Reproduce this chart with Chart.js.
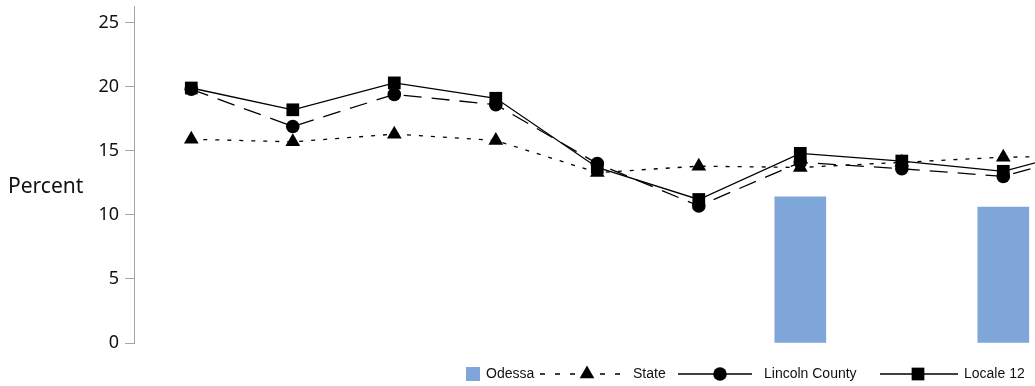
<!DOCTYPE html>
<html>
<head>
<meta charset="utf-8">
<script src="https://cdn.jsdelivr.net/npm/chart.js@4"></script>
<style>
  html, body { margin: 0; padding: 0; background: #fff; }
  #wrap { width: 1035px; height: 386px; }
</style>
</head>
<body>
<div id="wrap"><canvas id="chart" width="1035" height="386"></canvas></div>
<script>
// categories are unlabeled in the picture, only their positions show
const categories = [0, 1, 2, 3, 4, 5, 6, 7, 8, 9];
const odessa   = [null, null, null, null, null, null, 11.4, null, 10.6, null];
const state    = [15.9, 15.7, 16.3, 15.8, 13.3, 13.8, 13.7, 14.1, 14.5, 14.6];
const lincoln  = [19.8, 16.9, 19.4, 18.6, 14.0, 10.7, 14.1, 13.6, 13.0, 15.2];
const locale12 = [19.9, 18.2, 20.3, 19.1, 13.7, 11.2, 14.8, 14.2, 13.4, 15.5];
const yTicks = [0, 5, 10, 15, 20, 25];

const toXY = arr => categories.map((c, i) => ({ x: c, y: arr[i] })).filter(p => p.y !== null);

const legendPlugin = {
  id: 'customLegend',
  afterDraw(chart) {
    const ctx = chart.ctx;
    ctx.save();
    // y title, horizontal
    ctx.fillStyle = '#111';
    ctx.font = '21px "Noto Sans"';
    ctx.textBaseline = 'middle';
    ctx.textAlign = 'left';
    ctx.fillText('Percent', 8, 187);

    const y = 374;
    ctx.font = '14px "Liberation Sans"';
    // Odessa
    ctx.fillStyle = '#7EA6D8';
    ctx.fillRect(466, y - 7, 14, 14);
    ctx.fillStyle = '#111';
    ctx.fillText('Odessa', 486, y);

    const sample = (x0, x1, mx, ds, label, tx, dash) => {
      ctx.save();
      ctx.strokeStyle = '#000';
      ctx.lineWidth = 1.3;
      ctx.setLineDash(dash);
      ctx.beginPath();
      ctx.moveTo(x0, y);
      ctx.lineTo(x1, y);
      ctx.stroke();
      ctx.restore();
      ctx.fillStyle = '#000';
      Chart.helpers.drawPoint(ctx, {
        pointStyle: ds.pointStyle, radius: ds.pointRadius, rotation: 0, borderWidth: 0
      }, mx, y);
      ctx.fillStyle = '#111';
      ctx.fillText(label, tx, y);
    };
    const d = chart.data.datasets;
    sample(540, 625, 587, d[1], 'State', 633, [5, 10]);
    sample(678, 752, 720, d[2], 'Lincoln County', 764, []);
    sample(880, 958, 918, d[3], 'Locale 12', 964, []);
    ctx.restore();
  }
};

const xMin = -0.5645;
const xMax = xMin + 901 / 101.5;

new Chart(document.getElementById('chart'), {
  data: {
    datasets: [
      {
        type: 'bar', label: 'Odessa', data: toXY(odessa),
        backgroundColor: '#7EA6D8', borderWidth: 0, barThickness: 51, order: 4
      },
      {
        type: 'line', label: 'State', data: toXY(state),
        borderColor: '#000', borderWidth: 1.3, borderDash: [4, 8],
        pointStyle: 'triangle', pointRadius: 8.5,
        pointBackgroundColor: '#000', pointBorderWidth: 0, order: 3
      },
      {
        type: 'line', label: 'Lincoln County', data: toXY(lincoln),
        borderColor: '#000', borderWidth: 1.3, borderDash: [18, 10],
        pointStyle: 'circle', pointRadius: 6.8,
        pointBackgroundColor: '#000', pointBorderWidth: 0, order: 2
      },
      {
        type: 'line', label: 'Locale 12', data: toXY(locale12),
        borderColor: '#000', borderWidth: 1.3,
        pointStyle: 'rect', pointRadius: 9,
        pointBackgroundColor: '#000', pointBorderWidth: 0, order: 1
      }
    ]
  },
  options: {
    responsive: false,
    animation: false,
    layout: { autoPadding: false, padding: { left: 0, right: 0, top: 6, bottom: 43 } },
    plugins: { legend: { display: false }, tooltip: { enabled: false } },
    scales: {
      x: {
        type: 'linear', min: xMin, max: xMax, display: false, offset: false
      },
      y: {
        min: 0, max: 26.3,
        afterBuildTicks: s => { s.ticks = yTicks.map(v => ({ value: v })); },
        afterFit: s => { s.width = 134; s.paddingTop = 0; s.paddingBottom = 0; },
        grid: { drawOnChartArea: false, drawTicks: true, tickLength: 9, color: '#a6a6a6' },
        border: { color: '#a6a6a6', width: 1 },
        ticks: { color: '#111', font: { family: 'Noto Sans', size: 18 }, padding: 6 }
      }
    }
  },
  plugins: [legendPlugin]
});
</script>
</body>
</html>
